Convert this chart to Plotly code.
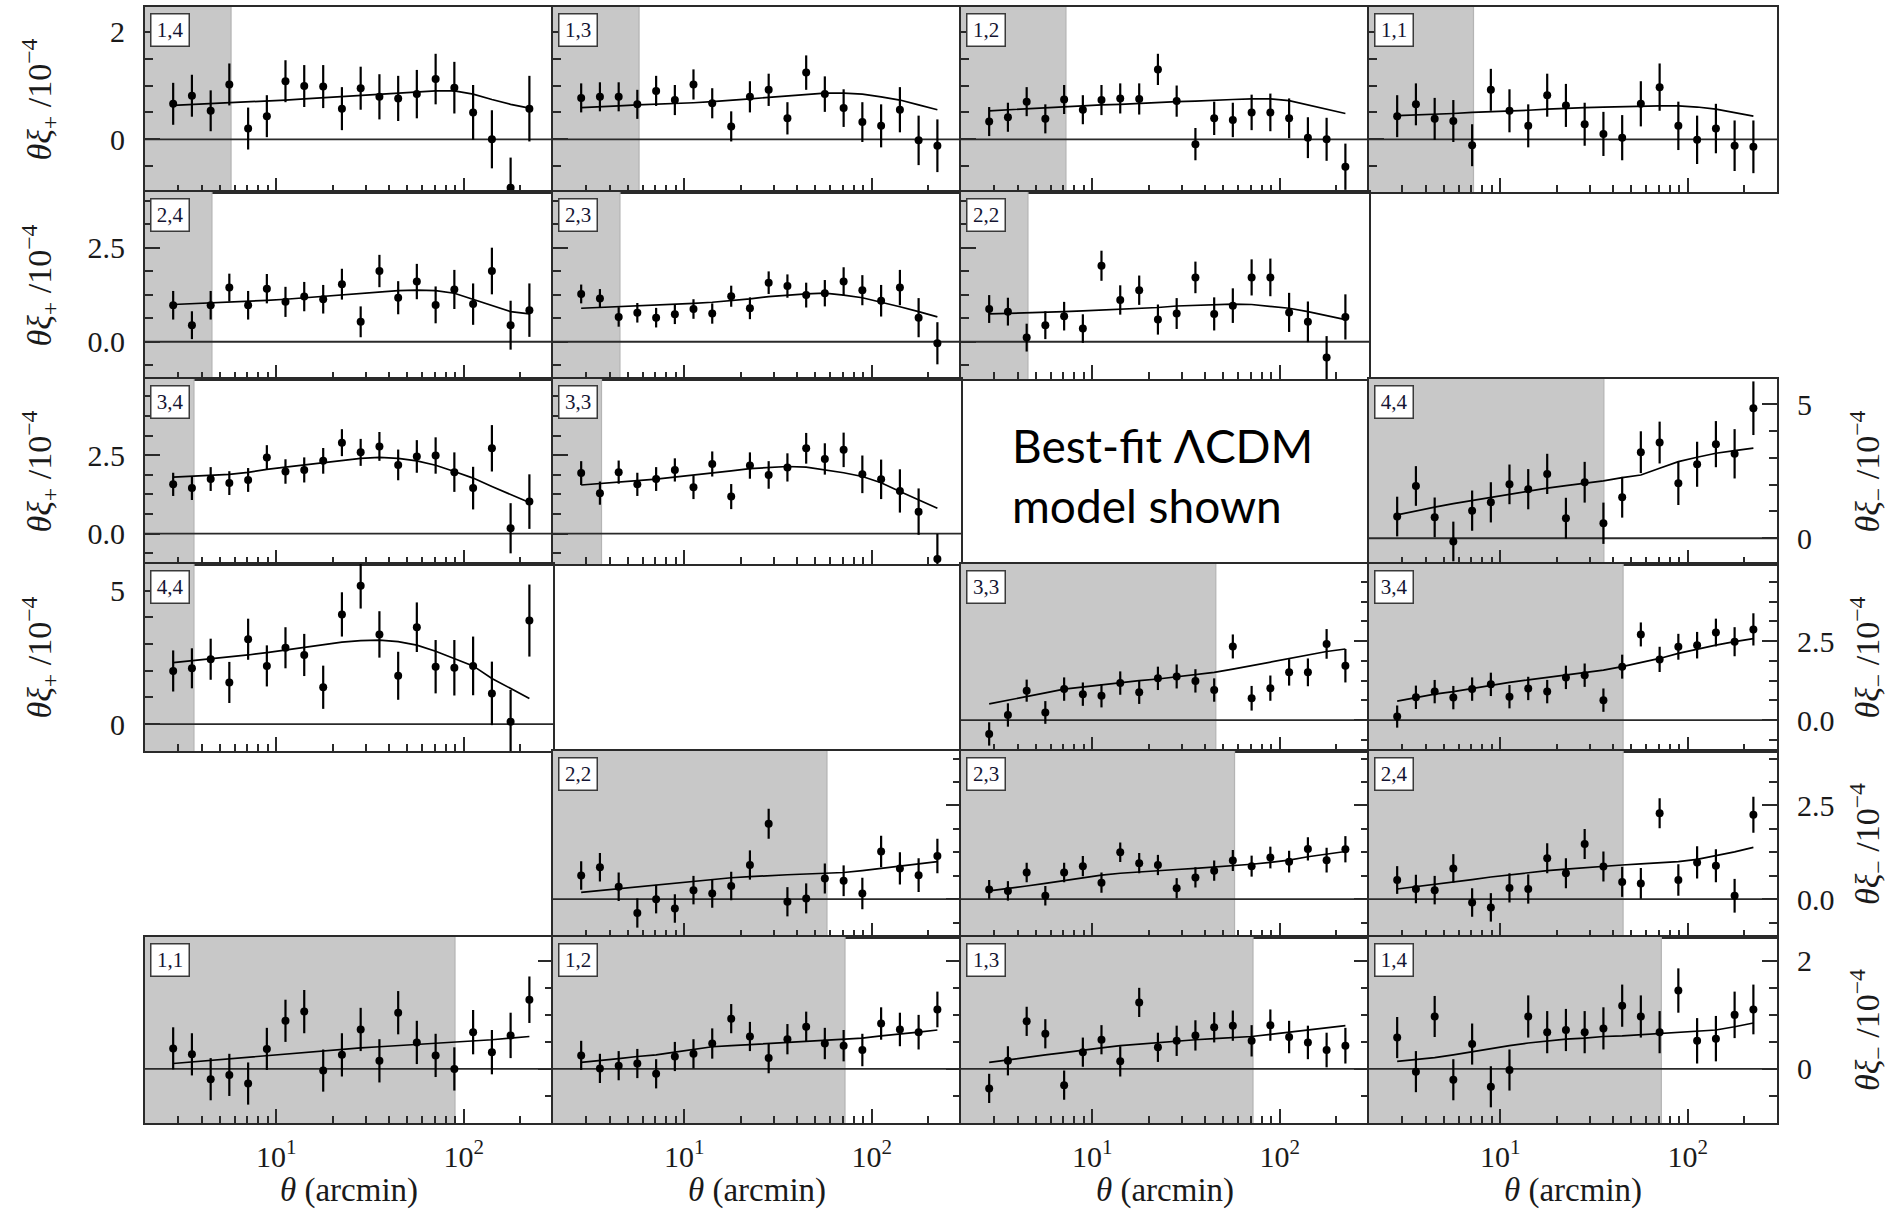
import plotly.graph_objects as go

W, H = 1895, 1209

# ---------------- data ----------------
theta = [2.82, 3.55, 4.47, 5.62, 7.08, 8.91, 11.2, 14.1, 17.8, 22.4,
         28.2, 35.5, 44.7, 56.2, 70.8, 89.1, 112.2, 141.3, 177.8, 223.9]

x_major = [10, 100]
x_major_text = ["10<sup>1</sup>", "10<sup>2</sup>"]
x_minor = [3, 4, 5, 6, 7, 8, 9, 20, 30, 40, 50, 60, 70, 80, 90, 200]

# xi_plus panels
xip_14 = [0.66, 0.81, 0.53, 1.02, 0.20, 0.43, 1.08, 0.99, 0.98, 0.57, 0.95, 0.79, 0.76, 0.84, 1.12, 0.96, 0.50, 0.00, -0.90, 0.57]
xip_14_err = [0.39, 0.39, 0.38, 0.39, 0.39, 0.39, 0.39, 0.39, 0.40, 0.40, 0.40, 0.42, 0.42, 0.45, 0.47, 0.48, 0.51, 0.54, 0.56, 0.61]
xip_14_model = [0.63, 0.645, 0.66, 0.68, 0.69, 0.71, 0.73, 0.75, 0.77, 0.79, 0.81, 0.83, 0.85, 0.88, 0.90, 0.90, 0.84, 0.74, 0.65, 0.58]

xip_13 = [0.77, 0.79, 0.79, 0.65, 0.90, 0.73, 1.02, 0.67, 0.24, 0.79, 0.92, 0.39, 1.24, 0.84, 0.58, 0.32, 0.25, 0.55, -0.02, -0.12]
xip_13_err = [0.27, 0.27, 0.27, 0.27, 0.28, 0.28, 0.28, 0.28, 0.28, 0.29, 0.30, 0.30, 0.32, 0.33, 0.35, 0.37, 0.40, 0.42, 0.46, 0.49]
xip_13_model = [0.59, 0.60, 0.62, 0.64, 0.65, 0.66, 0.68, 0.70, 0.72, 0.75, 0.78, 0.81, 0.84, 0.86, 0.86, 0.84, 0.79, 0.73, 0.64, 0.55]

xip_12 = [0.33, 0.41, 0.70, 0.38, 0.74, 0.55, 0.73, 0.76, 0.75, 1.30, 0.71, -0.09, 0.39, 0.36, 0.50, 0.50, 0.39, 0.03, 0.00, -0.51]
xip_12_err = [0.27, 0.27, 0.27, 0.27, 0.27, 0.27, 0.28, 0.28, 0.29, 0.29, 0.29, 0.30, 0.31, 0.32, 0.33, 0.35, 0.37, 0.38, 0.40, 0.43]
xip_12_model = [0.53, 0.55, 0.57, 0.59, 0.61, 0.62, 0.64, 0.65, 0.67, 0.68, 0.70, 0.71, 0.73, 0.74, 0.75, 0.75, 0.72, 0.64, 0.56, 0.48]

xip_11 = [0.43, 0.65, 0.38, 0.34, -0.11, 0.92, 0.53, 0.25, 0.82, 0.63, 0.28, 0.10, 0.03, 0.66, 0.97, 0.25, -0.01, 0.20, -0.12, -0.14]
xip_11_err = [0.39, 0.39, 0.39, 0.39, 0.39, 0.39, 0.40, 0.40, 0.40, 0.40, 0.40, 0.41, 0.42, 0.42, 0.44, 0.45, 0.45, 0.46, 0.47, 0.49]
xip_11_model = [0.44, 0.45, 0.47, 0.48, 0.50, 0.51, 0.52, 0.54, 0.56, 0.58, 0.59, 0.60, 0.61, 0.62, 0.62, 0.62, 0.60, 0.56, 0.50, 0.43]

xip_24 = [0.97, 0.44, 0.97, 1.44, 0.97, 1.41, 1.06, 1.20, 1.13, 1.53, 0.53, 1.88, 1.17, 1.60, 0.98, 1.39, 1.00, 1.88, 0.44, 0.84]
xip_24_err = [0.38, 0.37, 0.38, 0.37, 0.38, 0.39, 0.40, 0.39, 0.38, 0.41, 0.41, 0.43, 0.44, 0.47, 0.49, 0.52, 0.55, 0.62, 0.65, 0.71]
xip_24_model = [0.99, 1.01, 1.03, 1.06, 1.08, 1.10, 1.13, 1.17, 1.22, 1.26, 1.30, 1.33, 1.36, 1.37, 1.36, 1.29, 1.13, 0.95, 0.80, 0.74]

xip_23 = [1.27, 1.15, 0.66, 0.77, 0.64, 0.73, 0.87, 0.75, 1.21, 0.89, 1.57, 1.48, 1.24, 1.29, 1.60, 1.37, 1.09, 1.44, 0.64, -0.04]
xip_23_err = [0.25, 0.25, 0.26, 0.26, 0.26, 0.26, 0.26, 0.27, 0.28, 0.29, 0.30, 0.31, 0.33, 0.35, 0.38, 0.40, 0.42, 0.47, 0.52, 0.56]
xip_23_model = [0.89, 0.91, 0.93, 0.96, 0.98, 1.00, 1.02, 1.05, 1.09, 1.14, 1.20, 1.24, 1.27, 1.29, 1.24, 1.17, 1.06, 0.93, 0.80, 0.66]

xip_22 = [0.87, 0.80, 0.11, 0.44, 0.68, 0.35, 2.02, 1.11, 1.37, 0.59, 0.75, 1.71, 0.74, 0.96, 1.71, 1.71, 0.78, 0.53, -0.42, 0.66]
xip_22_err = [0.37, 0.37, 0.37, 0.37, 0.38, 0.38, 0.40, 0.39, 0.39, 0.40, 0.41, 0.42, 0.44, 0.46, 0.48, 0.50, 0.52, 0.54, 0.57, 0.60]
xip_22_model = [0.74, 0.75, 0.76, 0.78, 0.80, 0.82, 0.84, 0.86, 0.89, 0.91, 0.95, 0.97, 0.99, 1.00, 0.99, 0.95, 0.89, 0.80, 0.70, 0.59]

xip_34 = [1.57, 1.45, 1.74, 1.61, 1.71, 2.43, 1.98, 2.03, 2.32, 2.90, 2.59, 2.78, 2.19, 2.46, 2.49, 1.96, 1.45, 2.72, 0.17, 1.02]
xip_34_err = [0.37, 0.38, 0.38, 0.38, 0.38, 0.39, 0.39, 0.40, 0.41, 0.43, 0.43, 0.46, 0.49, 0.52, 0.58, 0.63, 0.68, 0.74, 0.80, 0.87]
xip_34_model = [1.80, 1.83, 1.86, 1.89, 1.95, 2.05, 2.12, 2.19, 2.28, 2.35, 2.40, 2.43, 2.40, 2.32, 2.18, 1.98, 1.77, 1.50, 1.25, 0.99]

xip_33 = [1.93, 1.29, 1.96, 1.57, 1.74, 2.03, 1.48, 2.22, 1.18, 2.17, 1.87, 2.11, 2.72, 2.38, 2.67, 1.89, 1.73, 1.36, 0.70, -0.81]
xip_33_err = [0.38, 0.37, 0.37, 0.37, 0.38, 0.37, 0.38, 0.40, 0.40, 0.42, 0.44, 0.45, 0.49, 0.50, 0.55, 0.60, 0.63, 0.69, 0.74, 0.80]
xip_33_model = [1.55, 1.59, 1.64, 1.69, 1.74, 1.80, 1.86, 1.93, 2.00, 2.07, 2.11, 2.14, 2.12, 2.03, 1.94, 1.82, 1.62, 1.34, 1.08, 0.81]

xip_44 = [1.99, 2.09, 2.43, 1.56, 3.18, 2.18, 2.86, 2.59, 1.38, 4.11, 5.18, 3.36, 1.81, 3.63, 2.15, 2.11, 2.18, 1.15, 0.09, 3.88]
xip_44_err = [0.77, 0.75, 0.77, 0.77, 0.77, 0.77, 0.77, 0.79, 0.81, 0.83, 0.85, 0.87, 0.90, 0.93, 1.00, 1.04, 1.10, 1.19, 1.19, 1.35]
xip_44_model = [2.30, 2.37, 2.44, 2.51, 2.59, 2.68, 2.78, 2.88, 2.99, 3.07, 3.13, 3.15, 3.09, 2.96, 2.73, 2.46, 2.18, 1.71, 1.34, 0.96]

# xi_minus panels
xim_44 = [0.81, 1.95, 0.78, -0.12, 1.03, 1.34, 2.01, 1.83, 2.40, 0.75, 2.09, 0.56, 1.53, 3.21, 3.57, 2.05, 2.76, 3.51, 3.15, 4.85]
xim_44_err = [0.74, 0.74, 0.74, 0.74, 0.75, 0.75, 0.74, 0.75, 0.75, 0.76, 0.76, 0.77, 0.76, 0.78, 0.78, 0.81, 0.84, 0.86, 0.92, 1.00]
xim_44_model = [0.87, 1.02, 1.16, 1.29, 1.41, 1.53, 1.65, 1.77, 1.87, 1.96, 2.05, 2.14, 2.26, 2.36, 2.61, 2.86, 3.02, 3.17, 3.27, 3.36]

xim_33 = [-0.44, 0.16, 0.93, 0.24, 0.98, 0.82, 0.77, 1.17, 0.88, 1.32, 1.38, 1.24, 0.95, 2.33, 0.69, 1.01, 1.51, 1.51, 2.41, 1.72]
xim_33_err = [0.37, 0.37, 0.35, 0.36, 0.37, 0.37, 0.37, 0.37, 0.37, 0.37, 0.38, 0.37, 0.37, 0.38, 0.39, 0.40, 0.42, 0.44, 0.47, 0.53]
xim_33_model = [0.51, 0.62, 0.74, 0.86, 0.98, 1.05, 1.12, 1.19, 1.25, 1.30, 1.37, 1.42, 1.51, 1.61, 1.72, 1.83, 1.95, 2.07, 2.17, 2.25]

xim_34 = [0.11, 0.72, 0.90, 0.71, 0.98, 1.13, 0.74, 1.00, 0.90, 1.35, 1.42, 0.63, 1.69, 2.71, 1.92, 2.32, 2.37, 2.77, 2.48, 2.87]
xim_34_err = [0.35, 0.37, 0.37, 0.37, 0.37, 0.37, 0.37, 0.37, 0.37, 0.37, 0.37, 0.37, 0.38, 0.38, 0.40, 0.41, 0.42, 0.44, 0.46, 0.51]
xim_34_model = [0.60, 0.72, 0.82, 0.90, 1.00, 1.11, 1.19, 1.27, 1.35, 1.42, 1.50, 1.58, 1.69, 1.81, 1.95, 2.11, 2.25, 2.37, 2.48, 2.58]

xim_22 = [0.63, 0.85, 0.33, -0.37, 0.00, -0.25, 0.24, 0.15, 0.35, 0.91, 2.01, -0.07, 0.02, 0.55, 0.49, 0.15, 1.27, 0.82, 0.64, 1.15]
xim_22_err = [0.38, 0.38, 0.38, 0.39, 0.38, 0.38, 0.38, 0.38, 0.38, 0.39, 0.40, 0.39, 0.40, 0.40, 0.41, 0.42, 0.42, 0.43, 0.45, 0.46]
xim_22_model = [0.18, 0.23, 0.28, 0.33, 0.38, 0.43, 0.48, 0.53, 0.57, 0.60, 0.63, 0.65, 0.67, 0.69, 0.71, 0.76, 0.82, 0.87, 0.93, 1.00]

xim_23 = [0.26, 0.22, 0.71, 0.09, 0.71, 0.88, 0.44, 1.25, 0.96, 0.91, 0.29, 0.58, 0.76, 1.03, 0.88, 1.11, 1.00, 1.34, 1.04, 1.33]
xim_23_err = [0.25, 0.26, 0.26, 0.26, 0.26, 0.27, 0.27, 0.26, 0.27, 0.27, 0.27, 0.27, 0.27, 0.28, 0.28, 0.29, 0.29, 0.31, 0.33, 0.35]
xim_23_model = [0.22, 0.28, 0.35, 0.42, 0.50, 0.57, 0.64, 0.69, 0.73, 0.77, 0.79, 0.82, 0.85, 0.88, 0.93, 0.98, 1.04, 1.13, 1.19, 1.27]

xim_24 = [0.51, 0.27, 0.24, 0.82, -0.09, -0.22, 0.30, 0.27, 1.09, 0.69, 1.47, 0.87, 0.46, 0.42, 2.29, 0.51, 0.98, 0.89, 0.09, 2.25]
xim_24_err = [0.37, 0.38, 0.38, 0.38, 0.38, 0.38, 0.39, 0.39, 0.40, 0.40, 0.40, 0.40, 0.40, 0.41, 0.40, 0.42, 0.43, 0.44, 0.45, 0.48]
xim_24_model = [0.27, 0.33, 0.39, 0.45, 0.52, 0.59, 0.65, 0.71, 0.76, 0.80, 0.84, 0.89, 0.91, 0.94, 0.97, 1.00, 1.06, 1.15, 1.26, 1.38]

xim_11 = [0.38, 0.27, -0.19, -0.11, -0.27, 0.37, 0.89, 1.06, -0.03, 0.26, 0.73, 0.15, 1.04, 0.49, 0.25, 0.00, 0.68, 0.31, 0.62, 1.28]
xim_11_err = [0.39, 0.39, 0.39, 0.39, 0.39, 0.39, 0.39, 0.40, 0.39, 0.40, 0.40, 0.40, 0.40, 0.40, 0.40, 0.40, 0.41, 0.41, 0.42, 0.43]
xim_11_model = [0.10, 0.13, 0.16, 0.18, 0.21, 0.24, 0.28, 0.31, 0.34, 0.37, 0.39, 0.41, 0.43, 0.45, 0.47, 0.49, 0.52, 0.54, 0.57, 0.60]

xim_12 = [0.25, 0.01, 0.06, 0.10, -0.09, 0.23, 0.28, 0.47, 0.93, 0.60, 0.20, 0.55, 0.78, 0.47, 0.43, 0.35, 0.84, 0.73, 0.68, 1.10]
xim_12_err = [0.27, 0.27, 0.27, 0.27, 0.27, 0.27, 0.27, 0.28, 0.27, 0.27, 0.28, 0.28, 0.28, 0.29, 0.29, 0.30, 0.30, 0.31, 0.32, 0.33]
xim_12_model = [0.12, 0.15, 0.19, 0.23, 0.26, 0.31, 0.36, 0.41, 0.43, 0.45, 0.47, 0.49, 0.51, 0.54, 0.55, 0.57, 0.61, 0.64, 0.68, 0.72]

xim_13 = [-0.36, 0.15, 0.88, 0.65, -0.30, 0.31, 0.54, 0.14, 1.23, 0.40, 0.52, 0.62, 0.77, 0.80, 0.52, 0.81, 0.59, 0.49, 0.35, 0.43]
xim_13_err = [0.27, 0.27, 0.27, 0.27, 0.27, 0.27, 0.27, 0.28, 0.27, 0.27, 0.28, 0.28, 0.28, 0.28, 0.29, 0.29, 0.30, 0.31, 0.32, 0.33]
xim_13_model = [0.12, 0.17, 0.21, 0.26, 0.30, 0.35, 0.39, 0.43, 0.46, 0.49, 0.52, 0.54, 0.56, 0.58, 0.60, 0.64, 0.68, 0.72, 0.76, 0.80]

xim_14 = [0.58, -0.05, 0.97, -0.20, 0.46, -0.33, -0.02, 0.97, 0.68, 0.72, 0.68, 0.75, 1.17, 0.97, 0.68, 1.45, 0.52, 0.56, 1.00, 1.10]
xim_14_err = [0.38, 0.38, 0.38, 0.38, 0.38, 0.38, 0.38, 0.39, 0.39, 0.39, 0.39, 0.39, 0.39, 0.39, 0.39, 0.41, 0.42, 0.42, 0.43, 0.46]
xim_14_model = [0.14, 0.17, 0.21, 0.26, 0.32, 0.38, 0.43, 0.48, 0.52, 0.55, 0.57, 0.60, 0.61, 0.63, 0.65, 0.67, 0.69, 0.72, 0.78, 0.85]

# scale cuts (arcmin): shaded region is theta < cut
cuts_plus = {"14": 5.74, "13": 5.74, "12": 7.24, "11": 7.2, "24": 4.54, "23": 4.54,
             "22": 4.54, "34": 3.64, "33": 3.62, "44": 3.64}
cuts_minus = {"44": 35.7, "33": 45.6, "34": 45.2, "22": 57.7, "23": 57.4, "24": 45.2,
              "11": 89.8, "12": 72.0, "13": 72.0, "14": 72.3}

# y tick sets
TICKS_A = dict(major=[0, 2], text=["0", "2"], minor=[-0.5, 0.5, 1.0, 1.5])
TICKS_B = dict(major=[0, 2.5], text=["0.0", "2.5"], minor=[-0.625, 0.625, 1.25, 1.875, 3.125, 3.75])
TICKS_C = dict(major=[0, 2.5], text=["0.0", "2.5"], minor=[-0.625, 0.625, 1.25, 1.875, 3.125, 3.75, 4.375])
TICKS_D = dict(major=[0, 5], text=["0", "5"], minor=[1, 2, 3, 4])

# ---------------- layout geometry (px) ----------------
col_edges = [145, 553, 961, 1369, 1777]
row_edges = [7, 192, 379, 564, 751, 937, 1123]
XRANGE = [0.300, 2.476]

panels = [
    # kind, pair, row, col, values, errors, model, yrange, ticks
    ("p", "14", 0, 0, xip_14, xip_14_err, xip_14_model, [-0.98, 2.46], TICKS_A),
    ("p", "13", 0, 1, xip_13, xip_13_err, xip_13_model, [-0.98, 2.46], TICKS_A),
    ("p", "12", 0, 2, xip_12, xip_12_err, xip_12_model, [-0.98, 2.46], TICKS_A),
    ("p", "11", 0, 3, xip_11, xip_11_err, xip_11_model, [-0.98, 2.46], TICKS_A),
    ("p", "24", 1, 0, xip_24, xip_24_err, xip_24_model, [-0.99, 3.98], TICKS_B),
    ("p", "23", 1, 1, xip_23, xip_23_err, xip_23_model, [-0.99, 3.98], TICKS_B),
    ("p", "22", 1, 2, xip_22, xip_22_err, xip_22_model, [-0.99, 3.98], TICKS_B),
    ("p", "34", 2, 0, xip_34, xip_34_err, xip_34_model, [-0.97, 4.93], TICKS_C),
    ("p", "33", 2, 1, xip_33, xip_33_err, xip_33_model, [-0.97, 4.93], TICKS_C),
    ("m", "44", 2, 3, xim_44, xim_44_err, xim_44_model, [-0.96, 5.94], TICKS_D),
    ("p", "44", 3, 0, xip_44, xip_44_err, xip_44_model, [-1.01, 6.0], TICKS_D),
    ("m", "33", 3, 2, xim_33, xim_33_err, xim_33_model, [-0.98, 4.94], TICKS_C),
    ("m", "34", 3, 3, xim_34, xim_34_err, xim_34_model, [-0.98, 4.94], TICKS_C),
    ("m", "22", 4, 1, xim_22, xim_22_err, xim_22_model, [-1.01, 3.95], TICKS_B),
    ("m", "23", 4, 2, xim_23, xim_23_err, xim_23_model, [-1.01, 3.95], TICKS_B),
    ("m", "24", 4, 3, xim_24, xim_24_err, xim_24_model, [-1.01, 3.95], TICKS_B),
    ("m", "11", 5, 0, xim_11, xim_11_err, xim_11_model, [-1.0, 2.44], TICKS_A),
    ("m", "12", 5, 1, xim_12, xim_12_err, xim_12_model, [-1.0, 2.44], TICKS_A),
    ("m", "13", 5, 2, xim_13, xim_13_err, xim_13_model, [-1.0, 2.44], TICKS_A),
    ("m", "14", 5, 3, xim_14, xim_14_err, xim_14_model, [-1.0, 2.44], TICKS_A),
]

SERIF = "Liberation Serif"
INK = "#1a1a1a"
FRAME = "#2a2a2a"

fig = go.Figure()
layout = dict(
    width=W, height=H, margin=dict(l=0, r=0, t=0, b=0),
    paper_bgcolor="white", plot_bgcolor="white", showlegend=False,
    font=dict(family=SERIF, size=29, color=INK),
)
annotations = []

x_left_fill = 1.8
x_right_line = 320

for k, (kind, pair, r, c, vals, errs, model, yr, tk) in enumerate(panels, start=1):
    xa = "x" if k == 1 else f"x{k}"
    ya = "y" if k == 1 else f"y{k}"
    xkey = "xaxis" if k == 1 else f"xaxis{k}"
    ykey = "yaxis" if k == 1 else f"yaxis{k}"
    x0, x1 = col_edges[c], col_edges[c + 1]
    y0, y1 = row_edges[r], row_edges[r + 1]
    cut = cuts_plus[pair] if kind == "p" else cuts_minus[pair]

    layout[xkey] = dict(
        domain=[x0 / W, x1 / W], anchor=ya, type="log", range=XRANGE,
        showline=True, mirror=True, linecolor=FRAME, linewidth=2,
        ticks="inside", ticklen=14, tickwidth=1.5, tickcolor=FRAME,
        tickmode="array", tickvals=x_major, ticktext=x_major_text,
        showticklabels=(r == 5), ticklabelstandoff=6,
        tickfont=dict(family=SERIF, size=30, color=INK),
        minor=dict(ticks="inside", ticklen=7, tickwidth=1.5, tickcolor=FRAME,
                   tickmode="array", tickvals=x_minor, showgrid=False),
        showgrid=False, zeroline=False, fixedrange=True,
    )
    show_y = (kind == "p" and c == 0) or (kind == "m" and c == 3)
    layout[ykey] = dict(
        domain=[1 - y1 / H, 1 - y0 / H], anchor=xa, range=yr,
        side="left" if kind == "p" else "right",
        showline=True, mirror=True, linecolor=FRAME, linewidth=2,
        ticks="inside", ticklen=15, tickwidth=1.5, tickcolor=FRAME,
        tickmode="array", tickvals=tk["major"], ticktext=tk["text"],
        showticklabels=show_y, ticklabelstandoff=12,
        tickfont=dict(family=SERIF, size=30, color=INK),
        minor=dict(ticks="inside", ticklen=8, tickwidth=1.5, tickcolor=FRAME,
                   tickmode="array", tickvals=tk["minor"], showgrid=False),
        showgrid=False, zeroline=False, fixedrange=True,
    )

    ylo, yhi = yr[0] - 0.5, yr[1] + 0.5
    # shaded excluded region
    fig.add_trace(go.Scatter(
        x=[x_left_fill, cut, cut, x_left_fill, x_left_fill],
        y=[ylo, ylo, yhi, yhi, ylo],
        mode="lines", fill="toself", fillcolor="#c8c8c8",
        line=dict(color="#b4b4b4", width=1.2),
        xaxis=xa, yaxis=ya, hoverinfo="skip",
    ))
    # zero line
    fig.add_trace(go.Scatter(
        x=[x_left_fill, x_right_line], y=[0, 0], mode="lines",
        line=dict(color=FRAME, width=1.8), xaxis=xa, yaxis=ya, hoverinfo="skip",
    ))
    # model curve
    fig.add_trace(go.Scatter(
        x=theta, y=model, mode="lines", line=dict(color="black", width=1.7),
        xaxis=xa, yaxis=ya,
    ))
    # measurements
    fig.add_trace(go.Scatter(
        x=theta, y=vals, mode="markers",
        marker=dict(color="black", size=8),
        error_y=dict(type="data", array=errs, visible=True, thickness=2.2,
                     width=0, color="black"),
        xaxis=xa, yaxis=ya,
    ))
    # bin-pair label box
    annotations.append(dict(
        xref="paper", yref="paper", x=(x0 + 5) / W, y=1 - (y0 + 6) / H,
        xanchor="left", yanchor="top", showarrow=False,
        text=f"{pair[0]},{pair[1]}",
        font=dict(family=SERIF, size=21, color="#141432"),
        bgcolor="white", bordercolor="#3a3a3a", borderwidth=1.5, borderpad=3,
        width=31, height=25,
    ))

# y-axis titles
for r in range(4):
    yc = (row_edges[r] + row_edges[r + 1]) / 2
    annotations.append(dict(
        xref="paper", yref="paper", x=39 / W, y=1 - yc / H,
        xanchor="center", yanchor="middle", showarrow=False, textangle=-90,
        text="<i>θξ</i><sub>+</sub> /10<sup>−4</sup>",
        font=dict(family=SERIF, size=34, color=INK),
    ))
for r in range(2, 6):
    yc = (row_edges[r] + row_edges[r + 1]) / 2
    annotations.append(dict(
        xref="paper", yref="paper", x=1867 / W, y=1 - yc / H,
        xanchor="center", yanchor="middle", showarrow=False, textangle=-90,
        text="<i>θξ</i><sub>−</sub> /10<sup>−4</sup>",
        font=dict(family=SERIF, size=34, color=INK),
    ))
# x-axis titles
for c in range(4):
    xc = (col_edges[c] + col_edges[c + 1]) / 2
    annotations.append(dict(
        xref="paper", yref="paper", x=xc / W, y=1 - 1190 / H,
        xanchor="center", yanchor="middle", showarrow=False,
        text="<i>θ</i> (arcmin)",
        font=dict(family=SERIF, size=33, color=INK),
    ))
# note in the empty cell
annotations.append(dict(
    xref="paper", yref="paper", x=1010 / W, y=1 - 476 / H,
    xanchor="left", yanchor="middle", showarrow=False, align="left",
    text="Best-fit ΛCDM<br>model shown",
    font=dict(family="Lato", size=46, color="black"),
))

layout["annotations"] = annotations
fig.update_layout(**layout)

fig.write_html("out.html", config={"displayModeBar": False},
               post_script="document.body.style.margin='0';document.body.style.overflow='hidden';")
